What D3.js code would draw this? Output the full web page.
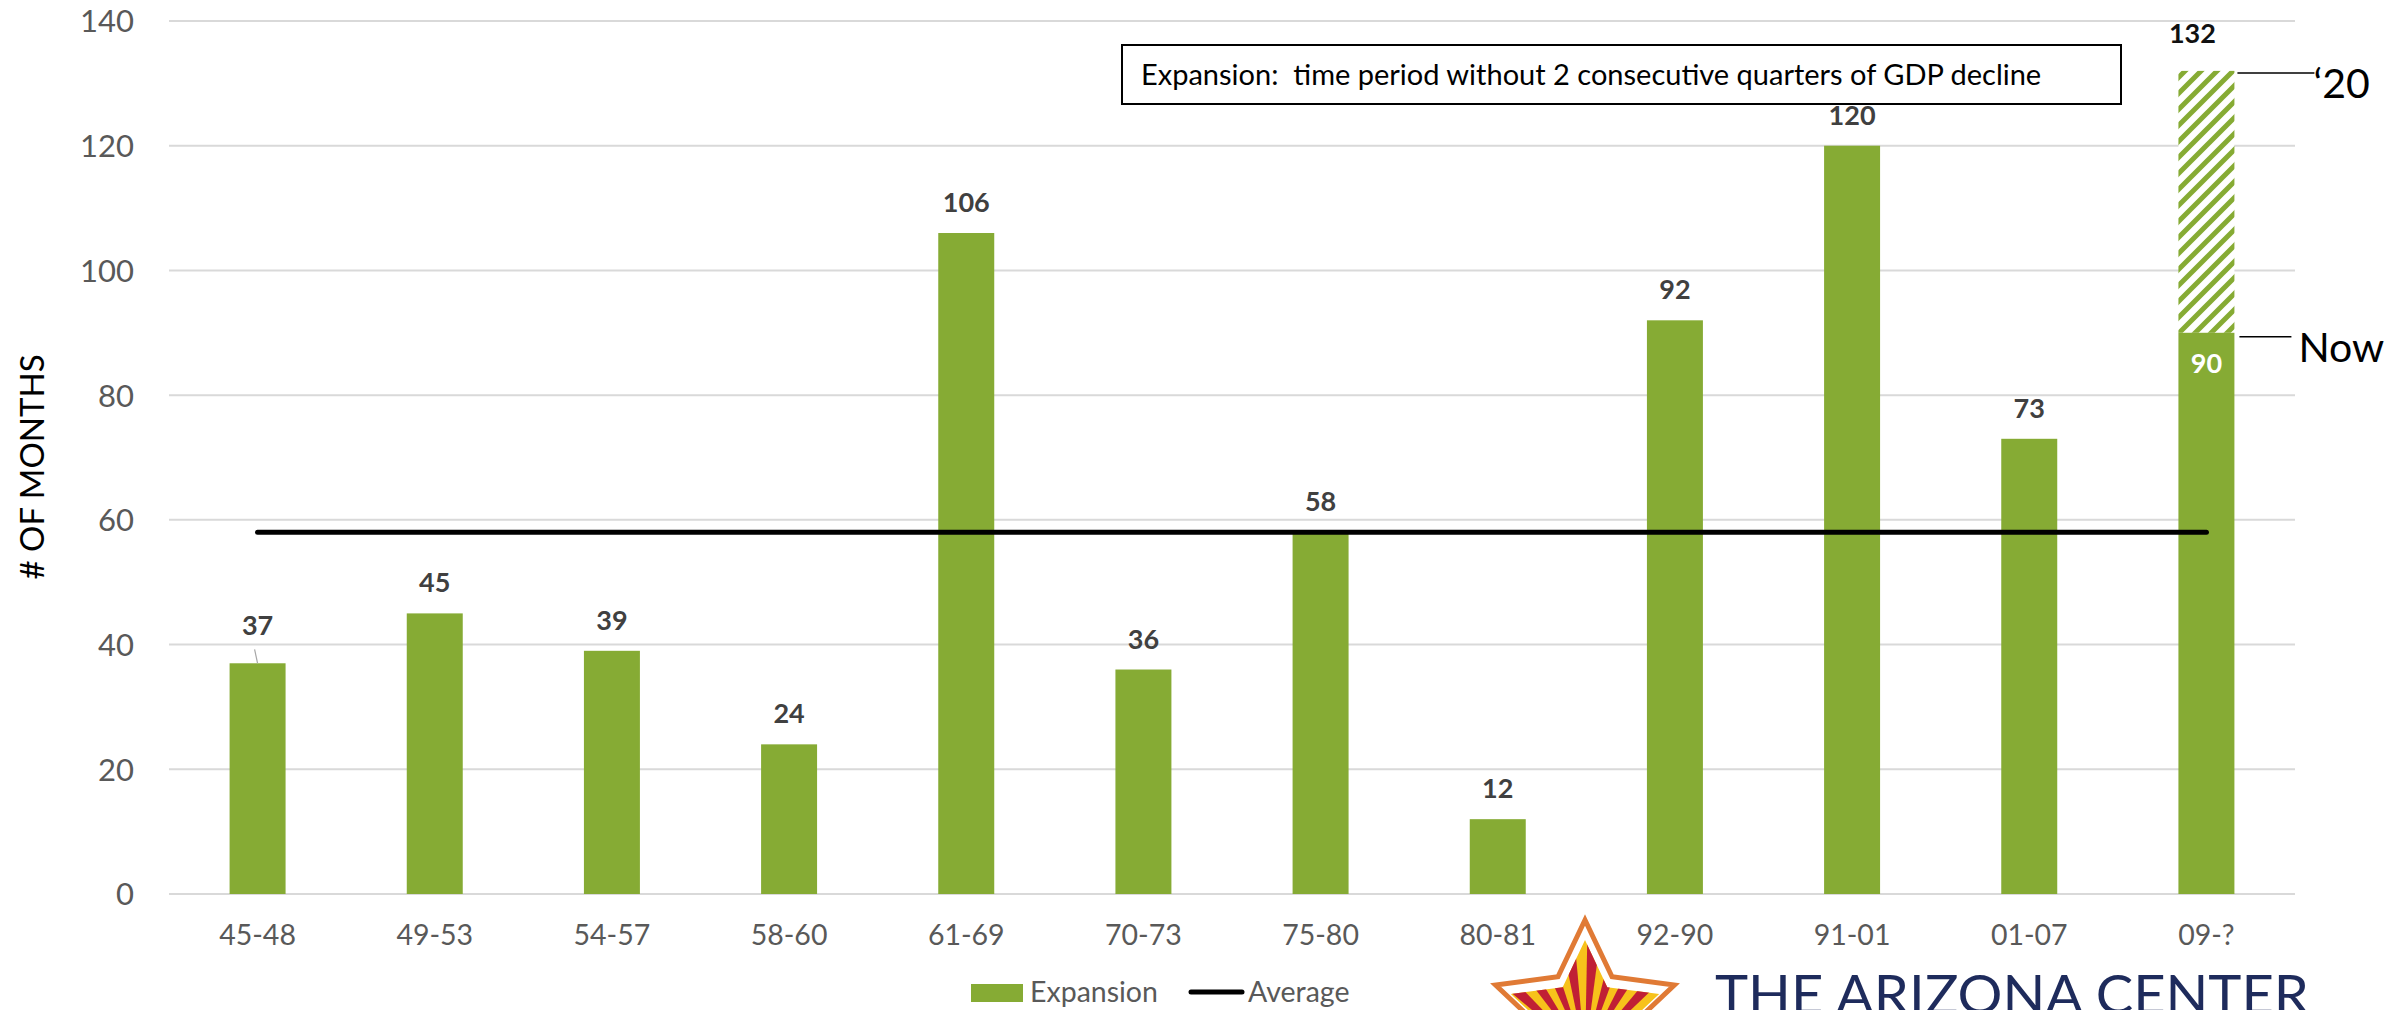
<!DOCTYPE html>
<html><head><meta charset="utf-8">
<script src="https://cdn.jsdelivr.net/npm/d3@7"></script>
<style>body{margin:0;background:#fff;} svg{display:block;} text{font-family:Lato,Carlito,"Open Sans",sans-serif;}</style>
</head><body>
<script>
const categories = ["45-48","49-53","54-57","58-60","61-69","70-73","75-80","80-81","92-90","91-01","01-07","09-?"];
const expansion = [37,45,39,24,106,36,58,12,92,120,73,90];
const projectedLast = 132;
const averageValue = 58;
const yTicks = [0,20,40,60,80,100,120,140];
const seriesNames = ["Expansion","Average"];
const noteText = "Expansion:  time period without 2 consecutive quarters of GDP decline";

const W = 2392, H = 1010;
const green = "#86ab34";
const svg = d3.select("body").append("svg").attr("width", W).attr("height", H);

const x = d3.scaleBand().domain(categories).range([169, 2295]).padding(0);
const y = d3.scaleLinear().domain([0, 140]).range([894, 21]);
const barW = x.bandwidth() * 0.316;

// pattern
const defs = svg.append("defs");
const pat = defs.append("pattern").attr("id","hatch").attr("patternUnits","userSpaceOnUse")
  .attr("width",16).attr("height",16);
pat.append("rect").attr("width",16).attr("height",16).attr("fill","#fff");
pat.append("path").attr("d","M-4,4 L4,-4 M0,16 L16,0 M12,20 L20,12")
  .attr("stroke",green).attr("stroke-width",5);

// gridlines
svg.append("g").selectAll("line").data(yTicks).join("line")
  .attr("x1",169).attr("x2",2295).attr("y1",d=>y(d)).attr("y2",d=>y(d))
  .attr("stroke","#d9d9d9").attr("stroke-width",2);

// y axis labels
const yAxis = d3.axisLeft(y).tickValues(yTicks).tickSize(0).tickPadding(0);
const gy = svg.append("g").attr("transform","translate(134,0)").call(yAxis);
gy.select(".domain").remove();
gy.selectAll("text").attr("font-size",31).attr("fill","#595959").attr("font-family","Lato, sans-serif").attr("dy","0.35em");

// x axis labels
const xAxis = d3.axisBottom(x).tickSize(0).tickPadding(0);
const gx = svg.append("g").attr("transform","translate(0,945)").call(xAxis);
gx.select(".domain").remove();
gx.selectAll("text").attr("font-size",28.5).attr("fill","#595959").attr("font-family","Lato, sans-serif").attr("dy",0);

// axis title
svg.append("text").attr("transform","translate(44,467) rotate(-90)")
  .attr("text-anchor","middle").attr("font-size",33).attr("fill","#000").text("# OF MONTHS");

// hatched projection on last
const lastCat = categories[categories.length-1];
const lastVal = expansion[expansion.length-1];
svg.append("rect").attr("x", x(lastCat)+x.bandwidth()/2-barW/2).attr("width",barW)
  .attr("y", y(projectedLast)).attr("height", y(lastVal)-y(projectedLast)).attr("fill","url(#hatch)");

// bars
svg.append("g").selectAll("rect").data(expansion).join("rect")
  .attr("x",(d,i)=>x(categories[i])+x.bandwidth()/2-barW/2).attr("width",barW)
  .attr("y",d=>y(d)).attr("height",d=>y(0)-y(d)).attr("fill",green);

// average line
svg.append("line")
  .attr("x1", x(categories[0])+x.bandwidth()/2).attr("x2", x(lastCat)+x.bandwidth()/2)
  .attr("y1", y(averageValue)).attr("y2", y(averageValue))
  .attr("stroke","#000").attr("stroke-width",5).attr("stroke-linecap","round");

// data labels
const labelShift = {0: 7};
svg.append("g").selectAll("text").data(expansion.slice(0,-1)).join("text")
  .attr("x",(d,i)=>x(categories[i])+x.bandwidth()/2)
  .attr("y",(d,i)=>y(d)-21-(labelShift[i]||0))
  .attr("text-anchor","middle").attr("font-size",27).attr("font-weight","bold").attr("fill","#404040")
  .text(d=>d);
// leader line for first label
svg.append("line").attr("x1",x(categories[0])+x.bandwidth()/2-3).attr("y1",y(expansion[0])-14)
  .attr("x2",x(categories[0])+x.bandwidth()/2).attr("y2",y(expansion[0]))
  .attr("stroke","#a6a6a6").attr("stroke-width",1.2);
// last bar labels
const lcx = x(lastCat)+x.bandwidth()/2;
svg.append("text").attr("x",lcx).attr("y",y(lastVal)+40).attr("text-anchor","middle")
  .attr("font-size",27).attr("font-weight","bold").attr("fill","#fff").text(lastVal);
svg.append("text").attr("x",lcx-14).attr("y",y(projectedLast)-28).attr("text-anchor","middle")
  .attr("font-size",27).attr("font-weight","bold").attr("fill","#111").text(projectedLast);

// callouts
svg.append("line").attr("x1",lcx+31).attr("x2",lcx+108).attr("y1",y(projectedLast)+2).attr("y2",y(projectedLast)+2)
  .attr("stroke","#000").attr("stroke-width",1.5);
svg.append("text").attr("x",lcx+107).attr("y",y(projectedLast)+27).attr("font-size",41).attr("fill","#000").text("\u201820");
svg.append("line").attr("x1",lcx+33).attr("x2",lcx+85).attr("y1",y(lastVal)+4).attr("y2",y(lastVal)+4)
  .attr("stroke","#000").attr("stroke-width",1.5);
svg.append("text").attr("x",lcx+92).attr("y",y(lastVal)+29).attr("font-size",41).attr("fill","#000").text("Now");

// note box
svg.append("rect").attr("x",1122).attr("y",45).attr("width",999).attr("height",59)
  .attr("fill","#fff").attr("stroke","#000").attr("stroke-width",2);
svg.append("text").attr("x",1141).attr("y",85).attr("font-size",29).attr("fill","#000")
  .style("white-space","pre").text(noteText);

// legend
const lg = svg.append("g");
lg.append("rect").attr("x",971).attr("y",984).attr("width",52).attr("height",18).attr("fill",green);
lg.append("text").attr("x",1030).attr("y",1002).attr("font-size",28.5).attr("fill","#595959").text(seriesNames[0]);
lg.append("line").attr("x1",1191).attr("x2",1242).attr("y1",992).attr("y2",992)
  .attr("stroke","#000").attr("stroke-width",5).attr("stroke-linecap","round");
lg.append("text").attr("x",1248).attr("y",1002).attr("font-size",28.5).attr("fill","#595959").text(seriesNames[1]);

// logo
const logo = svg.append("g");
function starPts(cx, cy, R, r){
  const pts=[];
  for(let k=0;k<10;k++){
    const a = -Math.PI/2 + k*Math.PI/5;
    const rad = k%2===0?R:r;
    pts.push([cx+rad*Math.cos(a), cy+rad*Math.sin(a)]);
  }
  return pts;
}
const scx=1585, scy=1014;
logo.append("polygon").attr("points",starPts(scx,scy,94,46).map(p=>p.join(",")).join(" "))
  .attr("fill","#fff").attr("stroke","#e07a35").attr("stroke-width",5).attr("stroke-linejoin","miter");
defs.append("clipPath").attr("id","innerStar").append("polygon")
  .attr("points",starPts(scx,scy+4,78,38).map(p=>p.join(",")).join(" "));
const rays = logo.append("g").attr("clip-path","url(#innerStar)");
rays.append("rect").attr("x",scx-100).attr("y",scy-100).attr("width",200).attr("height",200).attr("fill","#f7c21b");
const ox=scx, oy=scy+40;
for(let k=0;k<14;k++){
  const a0 = -Math.PI + k*Math.PI/14 + 0.02, a1 = a0 + Math.PI/28;
  rays.append("path").attr("d",`M${ox},${oy} L${ox+200*Math.cos(a0)},${oy+200*Math.sin(a0)} L${ox+200*Math.cos(a1)},${oy+200*Math.sin(a1)} Z`)
    .attr("fill","#c01f35");
}
logo.append("text").attr("x",1715).attr("y",1014).attr("font-family","'Liberation Serif', 'DejaVu Serif', serif")
  .attr("font-size",54).attr("fill","#1e2b5c").attr("textLength",594).attr("lengthAdjust","spacingAndGlyphs")
  .text("THE ARIZONA CENTER");
</script>
</body></html>
